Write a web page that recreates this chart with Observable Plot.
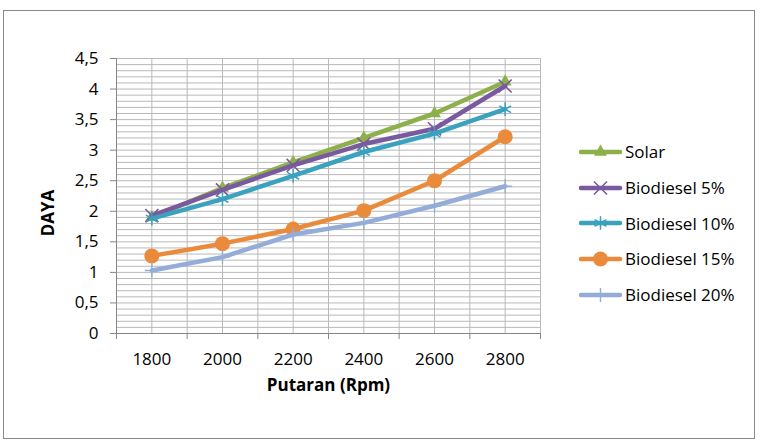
<!DOCTYPE html>
<html>
<head>
<meta charset="utf-8">
<script src="https://cdn.jsdelivr.net/npm/d3@7"></script>
<script src="https://cdn.jsdelivr.net/npm/@observablehq/plot@0.6"></script>
<style>
  html, body { margin: 0; padding: 0; background: #fff; }
  #wrap { position: relative; width: 764px; height: 446px; font-family: "Open Sans", sans-serif; }
  #border { position: absolute; left: 3px; top: 10px; width: 752px; height: 429px; border: 1px solid #8a8a8a; box-sizing: border-box; pointer-events: none; }
  #chart { position: absolute; left: 0; top: 0; }
  #legend { position: absolute; left: 579px; top: 134px; }
  #ytitle { position: absolute; left: 47px; top: 213px; transform: translate(-50%, -50%) rotate(-90deg); font-size: 17px; font-weight: bold; color: #000; white-space: nowrap; }
  .row { display: flex; align-items: center; height: 35.7px; font-size: 17px; color: #000; }
  .row svg { display: block; margin-right: 2px; }
</style>
</head>
<body>
<div id="wrap">
  <div id="chart"></div>
  <div id="ytitle">DAYA</div>
  <div id="legend"></div>
  <div id="border"></div>
</div>
<script>
// ---- data ----
const rpm = [1800, 2000, 2200, 2400, 2600, 2800];
const seriesNames = ["Solar", "Biodiesel 5%", "Biodiesel 10%", "Biodiesel 15%", "Biodiesel 20%"];
const solar = [1.90, 2.38, 2.80, 3.20, 3.60, 4.12];
const bio5  = [1.93, 2.35, 2.75, 3.10, 3.35, 4.05];
const bio10 = [1.88, 2.20, 2.58, 2.97, 3.27, 3.67];
const bio15 = [1.27, 1.47, 1.71, 2.01, 2.50, 3.22];
const bio20 = [1.03, 1.25, 1.62, 1.81, 2.09, 2.41];
const yTickLabels = ["0", "0,5", "1", "1,5", "2", "2,5", "3", "3,5", "4", "4,5"];
const yTicks = [0, 0.5, 1, 1.5, 2, 2.5, 3, 3.5, 4, 4.5];

// ---- styles ----
const colors = ["#8db04b", "#7a5a9e", "#3aa1be", "#ea8a3b", "#94acd8"];
const symbols = ["triangle", "times", "asterisk", "circle", "plus"];
const filled = [true, false, false, true, false];
const symR = [4.8, 6.0, 6.5, 7.5, 4.6];
const symSW = [0, 1.6, 1.5, 0, 1.4];

const values = [solar, bio5, bio10, bio15, bio20];
const data = [];
seriesNames.forEach((s, i) => rpm.forEach((r, j) => data.push({series: s, rpm: r, value: values[i][j]})));

const minorGrid = d3.range(0, 46).map(d => d / 10);
const xGrid = d3.range(1700, 2901, 100);
const xBounds = d3.range(1700, 2901, 200);

const marks = [
  Plot.gridY({ticks: minorGrid, stroke: "#b9b9b9", strokeOpacity: 1, strokeWidth: 1}),
  Plot.gridX({ticks: xGrid, stroke: "#b9b9b9", strokeOpacity: 1, strokeWidth: 1}),
  Plot.axisY({ticks: yTicks, tickFormat: (d) => yTickLabels[yTicks.indexOf(d)], tickSize: 6, tickPadding: 12, stroke: "#868686", fill: "#000", fontSize: 17, label: null}),
  Plot.axisX({ticks: xBounds, tickFormat: () => "", tickSize: 6, stroke: "#868686", label: null}),
  Plot.axisX({ticks: rpm, tickFormat: (d) => String(d), tickSize: 0, tickPadding: 19, fill: "#000", fontSize: 17, label: null}),
  Plot.ruleX([1700], {stroke: "#868686", strokeWidth: 1}),
  Plot.ruleY([0], {stroke: "#868686", strokeWidth: 1}),
];
seriesNames.forEach((s, i) => {
  const d = data.filter(e => e.series === s);
  marks.push(Plot.line(d, {x: "rpm", y: "value", stroke: colors[i], strokeWidth: 4.5, strokeLinejoin: "round", strokeLinecap: "round"}));
  marks.push(Plot.dot(d, filled[i]
    ? {x: "rpm", y: "value", symbol: () => symbols[i], r: symR[i], fill: colors[i], stroke: "none"}
    : {x: "rpm", y: "value", symbol: () => symbols[i], r: symR[i], fill: "none", stroke: colors[i], strokeWidth: symSW[i]}));
});
marks.push(Plot.text(["Putaran (Rpm)"], {frameAnchor: "bottom", dy: 57, fontSize: 17, fontWeight: "bold", fill: "#000"}));

const chart = Plot.plot({
  width: 764, height: 446,
  marginLeft: 116, marginRight: 224, marginTop: 58, marginBottom: 113,
  x: {type: "linear", domain: [1700, 2900]},
  y: {type: "linear", domain: [0, 4.5]},
  symbol: {type: "identity"},
  style: {fontFamily: "'Open Sans', sans-serif", fontSize: "17px", background: "transparent", overflow: "visible"},
  marks
});
document.getElementById("chart").appendChild(chart);

// ---- legend ----
const legend = d3.select("#legend");
const symMap = {triangle: d3.symbolTriangle, times: d3.symbolTimes, asterisk: d3.symbolAsterisk, circle: d3.symbolCircle, plus: d3.symbolPlus};
seriesNames.forEach((s, i) => {
  const row = legend.append("div").attr("class", "row");
  const svg = row.append("svg").attr("width", 44).attr("height", 20);
  svg.append("line").attr("x1", 2).attr("x2", 41).attr("y1", 10).attr("y2", 10)
    .attr("stroke", colors[i]).attr("stroke-width", 4.5).attr("stroke-linecap", "round");
  const path = d3.symbol(symMap[symbols[i]], symR[i] * symR[i] * Math.PI)();
  const p = svg.append("path").attr("d", path).attr("transform", "translate(21.5,10)");
  if (filled[i]) p.attr("fill", colors[i]);
  else p.attr("fill", "none").attr("stroke", colors[i]).attr("stroke-width", symSW[i]);
  row.append("span").text(s);
});
</script>
</body>
</html>
